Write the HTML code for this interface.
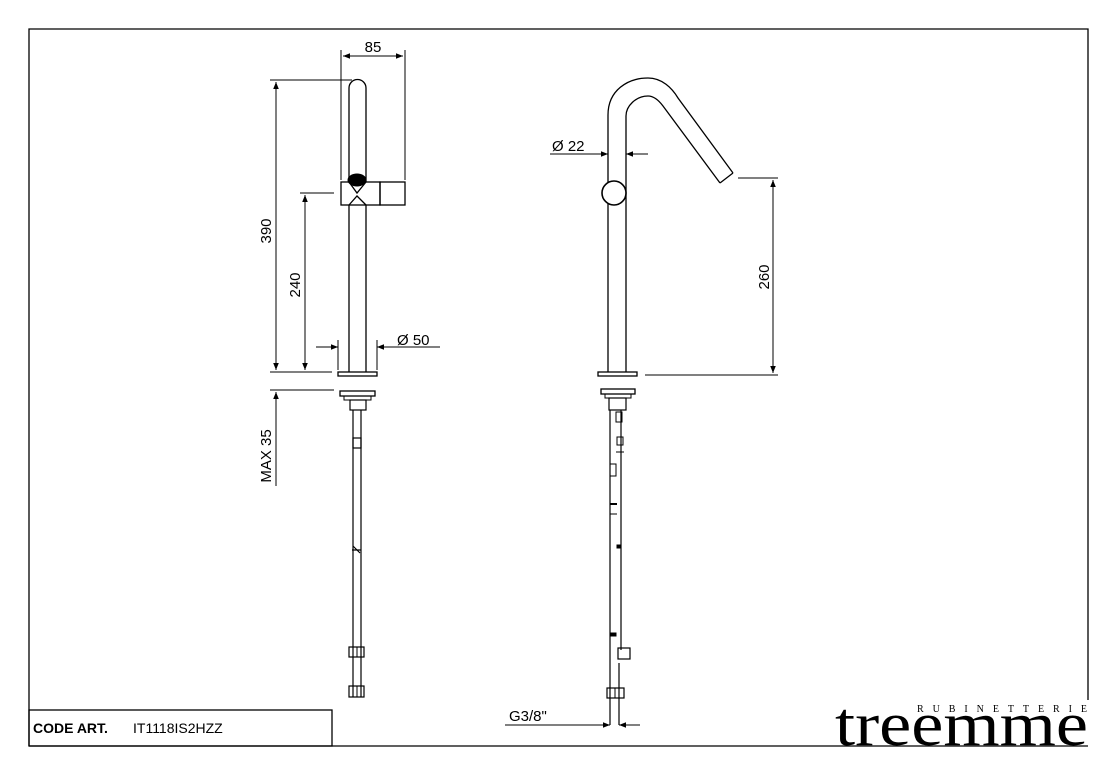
<!DOCTYPE html>
<html><head><meta charset="utf-8"><style>html,body{margin:0;padding:0;background:#fff}svg{display:block}</style></head>
<body>
<svg width="1106" height="770" viewBox="0 0 1106 770" xmlns="http://www.w3.org/2000/svg" font-family="Liberation Sans, sans-serif">
<defs>
<marker id="a" viewBox="0 0 10 10" refX="10" refY="5" markerWidth="9" markerHeight="7" orient="auto-start-reverse" markerUnits="userSpaceOnUse"><path d="M0,1 L10,5 L0,9 z" fill="#000"/></marker>
</defs>
<rect width="1106" height="770" fill="#fff"/>
<g stroke="#000" fill="none" stroke-width="1">
<path d="M29,746 L29,29 L1088,29 L1088,702" stroke-width="1.3"/>
<line x1="29" y1="746" x2="1088" y2="746" stroke-width="1.3"/>
<rect x="29" y="710" width="303" height="36" stroke-width="1.3"/>

<path d="M349,372 L349,88 A8.5,8.5 0 0 1 366,88 L366,372" stroke-width="1.3"/>
<rect x="341" y="182" width="39" height="23" fill="#fff" stroke-width="1.3"/>
<rect x="380" y="182" width="25" height="23" stroke-width="1.3"/>
<path d="M349,182 L357,193 L366,182 M349,205 L357,196 L366,205" stroke-width="1.3"/>
<ellipse cx="357" cy="180" rx="9" ry="6" fill="#000"/>
<line x1="341" y1="50" x2="341" y2="180"/><line x1="405" y1="50" x2="405" y2="180"/>
<line x1="343" y1="56" x2="403" y2="56" marker-start="url(#a)" marker-end="url(#a)"/>
<line x1="270" y1="80" x2="352" y2="80"/><line x1="270" y1="372" x2="332" y2="372"/>
<line x1="276" y1="82" x2="276" y2="370" marker-start="url(#a)" marker-end="url(#a)"/>
<line x1="300" y1="193" x2="334" y2="193"/>
<line x1="305" y1="195" x2="305" y2="370" marker-start="url(#a)" marker-end="url(#a)"/>
<line x1="338" y1="340" x2="338" y2="370"/><line x1="377" y1="340" x2="377" y2="370"/>
<line x1="316" y1="347" x2="338" y2="347" marker-end="url(#a)"/>
<line x1="440" y1="347" x2="377" y2="347" marker-end="url(#a)"/>
<rect x="338" y="372" width="39" height="4" stroke-width="1.3"/>
<line x1="270" y1="390" x2="334" y2="390"/>
<line x1="276" y1="486" x2="276" y2="392" marker-end="url(#a)"/>
<rect x="340" y="391" width="35" height="5" stroke-width="1.3"/>
<rect x="344" y="396" width="27" height="4"/>
<rect x="350" y="400" width="16" height="10" stroke-width="1.2"/>
<line x1="353" y1="410" x2="353" y2="697" stroke-width="1.2"/>
<line x1="361" y1="410" x2="361" y2="697" stroke-width="1.2"/>
<rect x="353" y="438" width="8" height="10" stroke-width="1.2"/>
<rect x="349" y="647" width="15" height="10" stroke-width="1.2"/>
<line x1="357" y1="647" x2="357" y2="657"/>
<rect x="349" y="686" width="15" height="11" stroke-width="1.2"/>
<line x1="357" y1="686" x2="357" y2="697"/>
<path d="M353,546 L360,553 M352,550 L361,550" stroke-width="1.2"/>

<path d="M608,372 L608,115 C608,90 628,78 648,78 C662,78 672,88 678,98 L733,173" stroke-width="1.3"/>
<path d="M626,372 L626,116 C626,106 636,96 648,96 C655,96 660,102 663,106 L720,183" stroke-width="1.3"/>
<line x1="733" y1="173" x2="720" y2="183" stroke-width="1.3"/>
<circle cx="614" cy="193" r="12" fill="#fff" stroke-width="1.6"/>
<line x1="550" y1="154" x2="608" y2="154" marker-end="url(#a)"/>
<line x1="648" y1="154" x2="626" y2="154" marker-end="url(#a)"/>
<line x1="738" y1="178" x2="778" y2="178"/><line x1="645" y1="375" x2="778" y2="375"/>
<line x1="773" y1="180" x2="773" y2="373" marker-start="url(#a)" marker-end="url(#a)"/>
<rect x="598" y="372" width="39" height="4" stroke-width="1.3"/>
<rect x="601" y="389" width="34" height="5" stroke-width="1.3"/>
<rect x="605" y="394" width="26" height="4"/>
<rect x="609" y="398" width="17" height="12" stroke-width="1.2"/>
<line x1="610" y1="410" x2="610" y2="725" stroke-width="1.2"/>
<line x1="621" y1="410" x2="621" y2="650" stroke-width="1.2"/>
<line x1="619" y1="663" x2="619" y2="725" stroke-width="1.2"/>
<rect x="616" y="412" width="6" height="10"/>
<rect x="617" y="437" width="6" height="8"/>
<line x1="616" y1="452" x2="624" y2="452"/>
<rect x="610" y="464" width="6" height="12"/>
<line x1="610" y1="504" x2="617" y2="504" stroke-width="2"/>
<line x1="610" y1="514" x2="617" y2="514"/>
<rect x="617" y="545" width="4" height="3" fill="#000"/>
<rect x="611" y="633" width="5" height="3" fill="#000"/>
<rect x="618" y="648" width="12" height="11" stroke-width="1.2"/>
<rect x="607" y="688" width="17" height="10" stroke-width="1.2"/>
<line x1="615" y1="688" x2="615" y2="698"/>
<line x1="505" y1="725" x2="610" y2="725" marker-end="url(#a)"/>
<line x1="640" y1="725" x2="619" y2="725" marker-end="url(#a)"/>
</g>
<g fill="#000" font-size="15">
<text x="373" y="52" text-anchor="middle">85</text>
<text transform="translate(271,231) rotate(-90)" text-anchor="middle">390</text>
<text transform="translate(300,285) rotate(-90)" text-anchor="middle">240</text>
<text x="397" y="345">Ø 50</text>
<text transform="translate(271,456) rotate(-90)" text-anchor="middle">MAX 35</text>
<text x="552" y="151">Ø 22</text>
<text transform="translate(769,277) rotate(-90)" text-anchor="middle">260</text>
<text x="509" y="721">G3/8"</text>
<text x="33" y="733" font-weight="bold" font-size="14">CODE ART.</text>
<text x="133" y="733" font-size="14">IT1118IS2HZZ</text>
</g>
<rect x="834" y="700" width="256" height="45" fill="#fff"/>
<text x="835" y="745" font-family="Liberation Serif, serif" font-size="62" textLength="253" lengthAdjust="spacingAndGlyphs">treemme</text>
<text x="917" y="712" font-family="Liberation Serif, serif" font-size="10" textLength="170" lengthAdjust="spacing">RUBINETTERIE</text>
</svg>
</body></html>
